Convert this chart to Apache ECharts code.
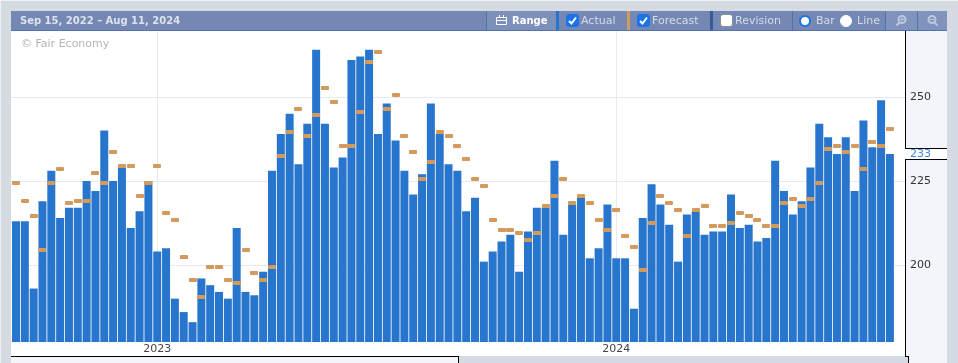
<!DOCTYPE html>
<html>
<head>
<meta charset="utf-8">
<style>
html, body { margin: 0; padding: 0; background: #d5dae3; }
#chart { width: 958px; height: 363px; }
</style>
<script src="https://cdn.jsdelivr.net/npm/echarts@6/dist/echarts.min.js"></script>
</head>
<body>
<div id="chart"></div>
<script>
var weeks = [
    '2022-09-15','2022-09-22','2022-09-29','2022-10-06','2022-10-13','2022-10-20','2022-10-27','2022-11-03','2022-11-10','2022-11-17',
    '2022-11-24','2022-12-01','2022-12-08','2022-12-15','2022-12-22','2022-12-29','2023-01-05','2023-01-12','2023-01-19','2023-01-26',
    '2023-02-02','2023-02-09','2023-02-16','2023-02-23','2023-03-02','2023-03-09','2023-03-16','2023-03-23','2023-03-30','2023-04-06',
    '2023-04-13','2023-04-20','2023-04-27','2023-05-04','2023-05-11','2023-05-18','2023-05-25','2023-06-01','2023-06-08','2023-06-15',
    '2023-06-22','2023-06-29','2023-07-06','2023-07-13','2023-07-20','2023-07-27','2023-08-03','2023-08-10','2023-08-17','2023-08-24',
    '2023-08-31','2023-09-07','2023-09-14','2023-09-21','2023-09-28','2023-10-05','2023-10-12','2023-10-19','2023-10-26','2023-11-02',
    '2023-11-09','2023-11-16','2023-11-23','2023-11-30','2023-12-07','2023-12-14','2023-12-21','2023-12-28','2024-01-04','2024-01-11',
    '2024-01-18','2024-01-25','2024-02-01','2024-02-08','2024-02-15','2024-02-22','2024-02-29','2024-03-07','2024-03-14','2024-03-21',
    '2024-03-28','2024-04-04','2024-04-11','2024-04-18','2024-04-25','2024-05-02','2024-05-09','2024-05-16','2024-05-23','2024-05-30',
    '2024-06-06','2024-06-13','2024-06-20','2024-06-27','2024-07-04','2024-07-11','2024-07-18','2024-07-25','2024-08-01','2024-08-08'
];
var actual = [
    213,213,193,219,228,214,217,217,225,222,
    240,225,229,211,216,225,204,205,190,186,
    183,196,194,192,190,211,192,191,198,228,
    239,245,230,242,264,242,229,232,261,262,
    264,239,248,237,228,221,227,248,239,230,
    228,216,220,201,204,207,209,198,210,217,
    217,231,209,218,220,202,205,218,202,202,
    187,214,224,218,212,201,215,216,209,210,
    210,221,211,212,207,208,231,222,215,219,
    229,242,238,233,238,222,243,235,249,233
];
var forecast = [
    224.5,219,214.5,204.5,224.5,228.5,218.5,219,219,227.5,
    224.5,233.5,229.5,229.5,220.5,224.5,229.5,215.5,213.5,202.5,
    195.5,190.5,199.5,199.5,195.5,194.5,204.5,197.5,195.5,199.5,
    232.5,239.5,246.5,238.5,244.5,252.5,248.5,235.5,235.5,245.5,
    260.5,263.5,246.5,250.5,238.5,233.5,225.5,230.5,239.5,238.5,
    235.5,231.5,225.5,223.5,213.5,210.5,210.5,209.5,207.5,209.5,
    217.5,220.5,225.5,218.5,220.5,218.5,213.5,210.5,216.5,208.5,
    205.5,198.5,212.5,220.5,218.5,216.5,208.5,216.5,217.5,211.5,
    211.5,212.5,215.5,214.5,213.5,211.5,211.5,218.5,219.5,217.5,
    219.5,224.5,234.5,235.5,233.5,235.5,228.5,236.5,235.5,240.5
];
var yearStarts = ['2023-01-05', '2024-01-04'];
var valueTicks = [200, 225, 250];
var latest = actual[actual.length - 1];
var yearTicks = yearStarts.map(function (d) { return weeks.indexOf(d); });

var FONT = '"DejaVu Sans", sans-serif';
var BG = '#d5dae3', HEAD = '#7488b3', BLUE = '#2875ce', ORANGE = '#d39a5c';
var LINE = '#4f73ae', TXT = '#d5dbe8', PANEL = '#f3f5fa';

function zip(values) {
    return values.map(function (v, i) { return [i, v]; });
}
function box(x, y, w, h, fill, r) {
    return { type: 'rect', z: -5, shape: { x: x, y: y, width: w, height: h, r: r || 0 }, style: { fill: fill } };
}
function label(x, s, fill, font) {
    return {
        type: 'text', x: x, y: 21, z: 5,
        style: { text: s, fill: fill || TXT, font: (font || '11px') + ' ' + FONT, textVerticalAlign: 'middle' }
    };
}
function checkbox(x, on) {
    var parts = [{
        type: 'rect', z: 5,
        shape: { x: x + 0.5, y: 14.5, width: 12, height: 12, r: 2.5 },
        style: { fill: on ? '#1a73e8' : '#fff', stroke: on ? '#1a73e8' : '#8a8f98', lineWidth: 1 }
    }];
    if (on) {
        parts.push({
            type: 'polyline', z: 6,
            shape: { points: [[x + 3, 21], [x + 5.5, 23.5], [x + 10, 17.5]] },
            style: { stroke: '#fff', lineWidth: 2, fill: null }
        });
    }
    return parts;
}
function radio(x, on) {
    return {
        type: 'circle', z: 5,
        shape: { cx: x, cy: 21, r: on ? 5 : 5.5 },
        style: { fill: '#fff', stroke: on ? '#1a73e8' : '#fff', lineWidth: on ? 2 : 1 }
    };
}
// zoom in has its handle to the lower left, zoom out to the lower right
function magnifier(x, plus) {
    var c = '#bcc8de';
    var dir = plus ? -1 : 1;
    var parts = [
        { type: 'circle', z: 5, shape: { cx: x, cy: 19.5, r: 3.5 }, style: { fill: null, stroke: c, lineWidth: 2 } },
        { type: 'line', z: 5, shape: { x1: x + dir * 2.5, y1: 22.5, x2: x + dir * 5.5, y2: 25.5 }, style: { stroke: c, lineWidth: 2 } },
        { type: 'line', z: 5, shape: { x1: x - 2, y1: 19.5, x2: x + 2, y2: 19.5 }, style: { stroke: c, lineWidth: 1 } }
    ];
    if (plus) {
        parts.push({ type: 'line', z: 5, shape: { x1: x, y1: 17.5, x2: x, y2: 21.5 }, style: { stroke: c, lineWidth: 1 } });
    }
    return parts;
}

var graphics = [
    box(0, 0, 958, 1, '#eef0f4'),
    box(0, 0, 1, 363, '#eef0f4'),
    // plot, axis panel, header
    box(11, 31, 894, 325, '#fff'),
    box(905, 31, 42, 332, PANEL),
    box(11, 356, 447, 7, PANEL),
    box(11, 11, 936, 19, HEAD),
    box(11, 30, 936, 1, LINE),
    box(917, 11, 30, 19, '#8093bd'),
    box(886, 11, 31, 19, '#8093bd'),
    box(487, 11, 69, 19, '#7d90ba'),
    // frame lines
    box(905, 31, 1, 117, '#000'),
    box(905, 148, 42, 1, '#000'),
    box(905, 149, 42, 10, '#fff'),
    box(905, 159, 42, 1, '#000'),
    box(905, 160, 1, 197, '#000'),
    box(905, 356, 4, 1, '#000'),
    box(908, 356, 1, 7, '#000'),
    box(11, 356, 448, 1, '#000'),
    box(458, 356, 1, 7, '#000'),
    box(905, 357, 3, 6, BG),
    // separators
    box(486, 11, 1, 19, LINE),
    box(556, 11, 3, 19, BLUE),
    box(627, 11, 3, 19, ORANGE),
    box(710, 11, 3, 19, '#3a5a96'),
    box(792, 11, 1, 19, LINE),
    box(885, 11, 1, 19, LINE),
    box(917, 11, 1, 19, LINE),
    label(20, 'Sep 15, 2022 \u2013 Aug 11, 2024', '#dde2ed', 'bold 10px'),
    label(512, 'Range', '#fff', 'bold 10px'),
    label(581, 'Actual'),
    label(652, 'Forecast'),
    label(735, 'Revision'),
    label(816, 'Bar'),
    label(857, 'Line'),
    radio(805, true),
    radio(846, false),
    // calendar icon
    { type: 'rect', z: 5, shape: { x: 496.5, y: 17.5, width: 10, height: 7 }, style: { fill: null, stroke: '#fff', lineWidth: 1 } },
    { type: 'line', z: 5, shape: { x1: 496, y1: 20.5, x2: 507, y2: 20.5 }, style: { stroke: '#fff', lineWidth: 1 } },
    { type: 'line', z: 5, shape: { x1: 499.5, y1: 15, x2: 499.5, y2: 18 }, style: { stroke: '#fff', lineWidth: 1 } },
    { type: 'line', z: 5, shape: { x1: 503.5, y1: 15, x2: 503.5, y2: 18 }, style: { stroke: '#fff', lineWidth: 1 } },
    {
        type: 'text', x: 21, y: 44, z: 5,
        style: { text: '\u00a9 Fair Economy', fill: '#b4b4b4', font: '11px ' + FONT, textVerticalAlign: 'middle' }
    }
].concat(checkbox(566, true), checkbox(637, true), checkbox(720, false), magnifier(902, true), magnifier(932, false));

// forecast dash, snapped to whole pixels so it stays crisp
function renderForecast(params, api) {
    var p = api.coord([api.value(0), api.value(1)]);
    return {
        type: 'rect',
        shape: { x: Math.round(p[0] - 4), y: Math.round(p[1] - 2), width: 8, height: 4, r: 1 },
        style: { fill: ORANGE }
    };
}

var chart = echarts.init(document.getElementById('chart'));
chart.setOption({
    animation: false,
    backgroundColor: BG,
    tooltip: {},
    grid: { left: 11, right: 53, top: 31, bottom: 21 },
    graphic: { elements: graphics },
    xAxis: {
        type: 'value',
        min: -0.566,
        max: 100.71,
        axisLine: { show: false },
        axisTick: { show: false, customValues: yearTicks },
        axisLabel: {
            customValues: yearTicks,
            margin: 2,
            color: '#444',
            fontFamily: FONT,
            fontSize: 11,
            formatter: function (i) { return weeks[i].slice(0, 4); }
        },
        splitLine: { show: true, lineStyle: { color: '#e8eaf0', width: 1 } }
    },
    yAxis: {
        type: 'value',
        position: 'right',
        min: 177.1,
        max: 269.6,
        axisLine: { show: false },
        axisTick: { show: false, customValues: valueTicks },
        axisLabel: {
            customValues: valueTicks.concat([latest]),
            margin: 5,
            fontFamily: FONT,
            fontSize: 11,
            color: function (v) { return Number(v) === latest ? '#3d85e0' : '#333'; }
        },
        splitLine: { show: true, lineStyle: { color: '#e8eaf0', width: 1 } }
    },
    series: [
        {
            name: 'Actual',
            type: 'bar',
            barWidth: 8,
            itemStyle: { color: BLUE },
            data: zip(actual)
        },
        {
            name: 'Forecast',
            type: 'custom',
            renderItem: renderForecast,
            encode: { x: 0, y: 1 },
            z: 5,
            data: zip(forecast)
        }
    ]
});
</script>
</body>
</html>
